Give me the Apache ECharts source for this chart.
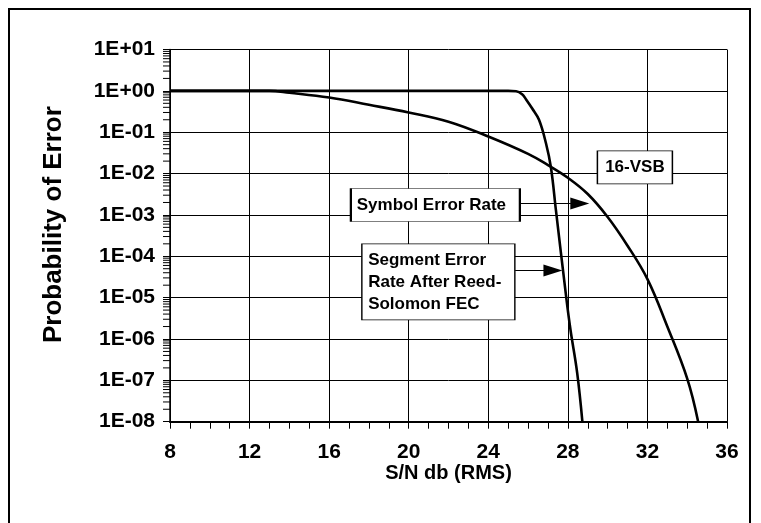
<!DOCTYPE html>
<html>
<head>
<meta charset="utf-8">
<script src="https://cdn.jsdelivr.net/npm/echarts@6/dist/echarts.min.js"></script>
<style>
  html, body { margin: 0; padding: 0; background: #fff; }
  #chart { width: 761px; height: 523px; }
</style>
</head>
<body>
<div id="chart"></div>
<script>
// S/N (dB) vs probability
const segX = [8, 24, 25, 25.4, 25.7, 25.9, 26.2, 26.55, 26.9, 27.15, 27.4, 27.92, 28.13, 28.47, 28.73];
const segY = [1, 1, 1, 0.98, 0.83, 0.62, 0.38, 0.2, 0.054, 0.014, 1.3e-3, 1e-5, 1.7e-6, 1.5e-7, 1e-8];

const symX = [8, 13, 14, 16, 18, 20, 22, 24, 26, 27, 28, 29, 30, 31, 32, 33, 34, 34.55];
const symY = [1, 1, 0.9, 0.69, 0.46, 0.3, 0.18, 0.079, 0.03, 0.016, 7.9e-3, 3.2e-3, 8.9e-4, 1.8e-4, 2.8e-5, 2e-6, 1.1e-7, 1e-8];

const xTicks = { min: 8, max: 36, step: 4 };
const yDecades = { min: 1e-8, max: 10 };

// annotation anchors in data space
const boxTexts = ['16-VSB', 'Symbol Error Rate', 'Segment Error\nRate After Reed-\nSolomon FEC'];
const boxAt = [[31.37, 0.0141], [21.34, 1.74e-3], [21.49, 2.4e-5]];
const boxSize = [[75, 33], [169, 33], [153, 76]];
const arrowFrom = [[25.6, 1.9e-3], [25.35, 4.5e-5]];
const arrowTo = [[28.6, 1.9e-3], [27.25, 4.5e-5]];

const minorVals = [];
for (let k = -8; k <= 0; k++) {
  for (let m = 2; m <= 9; m++) minorVals.push([xTicks.min, m * Math.pow(10, k)]);
}

const font = 'Liberation Sans, Arial, sans-serif';
const chart = echarts.init(document.getElementById('chart'));

function expLabel(v) {
  const e = Math.round(Math.log10(v));
  const a = Math.abs(e);
  return '1E' + (e < 0 ? '-' : '+') + (a < 10 ? '0' + a : a);
}

const option = {
  animation: false,
  backgroundColor: '#fff',
  textStyle: { fontFamily: font },
  grid: { left: 170, right: 34, top: 49.5, bottom: 101.3 },
  graphic: [{
    type: 'rect', silent: true, z: -1,
    shape: { x: 9, y: 9, width: 741, height: 540 },
    style: { fill: null, stroke: '#000', lineWidth: 2 }
  }],
  xAxis: {
    type: 'value',
    min: xTicks.min, max: xTicks.max, interval: xTicks.step,
    name: 'S/N db (RMS)',
    nameLocation: 'middle', nameGap: 42, nameMoveOverlap: false,
    nameTextStyle: { fontSize: 20, fontWeight: 'bold', color: '#000', fontFamily: font },
    axisLine: { lineStyle: { color: '#000', width: 2 } },
    axisTick: { length: 7, lineStyle: { color: '#000' } },
    minorTick: { show: true, splitNumber: 4, length: 7, lineStyle: { color: '#000' } },
    axisLabel: { fontSize: 21, fontWeight: 'bold', color: '#000', margin: 20, fontFamily: font },
    splitLine: { show: true, lineStyle: { color: '#000', width: 1 } }
  },
  yAxis: {
    type: 'log', logBase: 10,
    min: yDecades.min, max: yDecades.max, splitNumber: 9,
    name: 'Probability of Error',
    nameLocation: 'middle', nameGap: 103, nameRotate: 90, nameMoveOverlap: false,
    nameTextStyle: { fontSize: 26, fontWeight: 'bold', color: '#000', fontFamily: font, padding: [0, 0, 0, 22] },
    axisLine: { show: true, lineStyle: { color: '#000', width: 1.5 } },
    axisTick: { show: true, length: 7, lineStyle: { color: '#000' } },
    axisLabel: { fontSize: 21, fontWeight: 'bold', color: '#000', margin: 15, fontFamily: font, formatter: expLabel },
    splitLine: { show: true, lineStyle: { color: '#000', width: 1 } }
  },
  series: [
    {
      // log minor ticks on the y axis
      type: 'custom',
      silent: true,
      clip: false,
      data: minorVals,
      renderItem: function (params, api) {
        const p = api.coord([api.value(0), api.value(1)]);
        return {
          type: 'line',
          shape: { x1: p[0] - 7, y1: p[1], x2: p[0], y2: p[1] },
          style: { stroke: '#000', lineWidth: 1 }
        };
      }
    },
    {
      name: 'Symbol Error Rate',
      type: 'line',
      data: symX.map((x, i) => [x, symY[i]]),
      showSymbol: false,
      smooth: 0.4,
      lineStyle: { color: '#000', width: 2.6 },
      z: 3,
      markLine: {
        silent: true,
        lineStyle: { color: '#000', width: 1, type: 'solid' },
        label: { show: false },
        data: arrowFrom.map((a, i) => [
          { coord: a, symbol: 'none' },
          { coord: arrowTo[i], symbol: 'triangle', symbolSize: [12, 19] }
        ])
      },
      markPoint: {
        silent: true,
        data: boxTexts.map((t, i) => ({
          coord: boxAt[i],
          symbol: 'rect',
          symbolSize: boxSize[i],
          itemStyle: { color: '#fff', borderColor: '#000', borderWidth: 1 },
          label: {
            show: true,
            position: i === 0 ? 'inside' : 'insideLeft',
            distance: 7,
            formatter: t,
            color: '#000',
            fontSize: 17,
            fontWeight: 'bold',
            fontFamily: font,
            lineHeight: 22
          }
        }))
      }
    },
    {
      name: 'Segment Error Rate',
      type: 'line',
      data: segX.map((x, i) => [x, segY[i]]),
      showSymbol: false,
      smooth: 0.4,
      lineStyle: { color: '#000', width: 2.6 },
      z: 3
    }
  ]
};

chart.setOption(option);
</script>
</body>
</html>
